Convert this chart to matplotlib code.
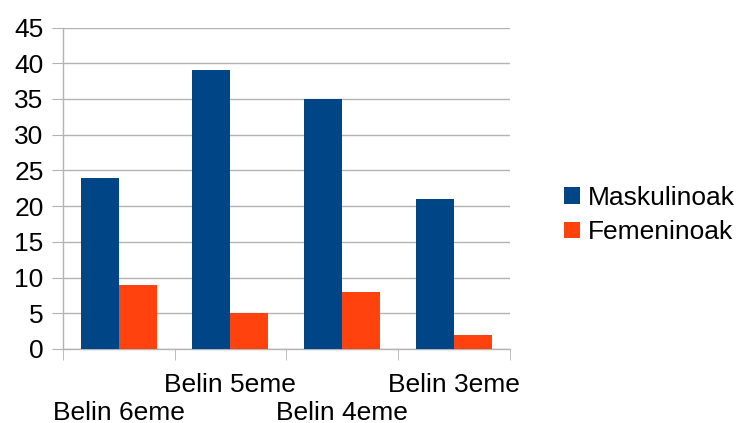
import matplotlib
matplotlib.use("Agg")
import matplotlib.pyplot as plt
import matplotlib.transforms as mtransforms
import numpy as np

plt.rcParams['font.family'] = ['Liberation Sans', 'DejaVu Sans']

categories = ["Belin 6eme", "Belin 5eme", "Belin 4eme", "Belin 3eme"]
maskulinoak = [24, 39, 35, 21]
femeninoak = [9, 5, 8, 2]
series_names = ["Maskulinoak", "Femeninoak"]
colors = ["#004586", "#ff420e"]

FS = 19
fig = plt.figure(figsize=(7.39, 4.23), dpi=100)
ax = fig.add_axes([63/739, 1-349/423, (509.5-63)/739, (349-27.5)/423])

x = np.arange(len(categories))
w = 0.34
ax.bar(x - w/2, maskulinoak, width=w, color=colors[0], label=series_names[0], zorder=3)
ax.bar(x + w/2, femeninoak, width=w, color=colors[1], label=series_names[1], zorder=3)

ax.set_xlim(-0.5, len(categories) - 0.5)
ax.set_ylim(0, 45)
ax.set_yticks(np.arange(0, 46, 5))
ax.yaxis.grid(True, color="#b3b3b3", linewidth=1, zorder=0)
ax.set_axisbelow(True)

for s in ["top", "right"]:
    ax.spines[s].set_visible(False)
for s in ["left", "bottom"]:
    ax.spines[s].set_color("#b3b3b3")
    ax.spines[s].set_linewidth(1)

ax.tick_params(axis="y", length=8, color="#b3b3b3", labelsize=FS, pad=6)
# category boundaries as tick marks
ax.set_xticks(np.arange(-0.5, len(categories), 1.0), minor=True)
ax.tick_params(axis="x", which="minor", length=8, color="#b3b3b3")
ax.set_xticks(x)
ax.set_xticklabels(categories)
ax.tick_params(axis="x", which="major", length=0, labelsize=FS, pad=17)
# stagger: shift every other label down one row
shift = mtransforms.ScaledTranslation(0, -0.285, fig.dpi_scale_trans)
for i, tick in enumerate(ax.xaxis.get_major_ticks()):
    if i % 2 == 0:
        tick.label1.set_transform(tick.label1.get_transform() + shift)

leg = ax.legend(loc="center left", bbox_to_anchor=(564/739, 1-215/423),
                bbox_transform=fig.transFigure, frameon=False,
                fontsize=FS, handlelength=0.6, handleheight=0.6,
                handletextpad=0.3, labelspacing=0.4,
                borderpad=0, borderaxespad=0)

fig.savefig("out.png", dpi=100)
